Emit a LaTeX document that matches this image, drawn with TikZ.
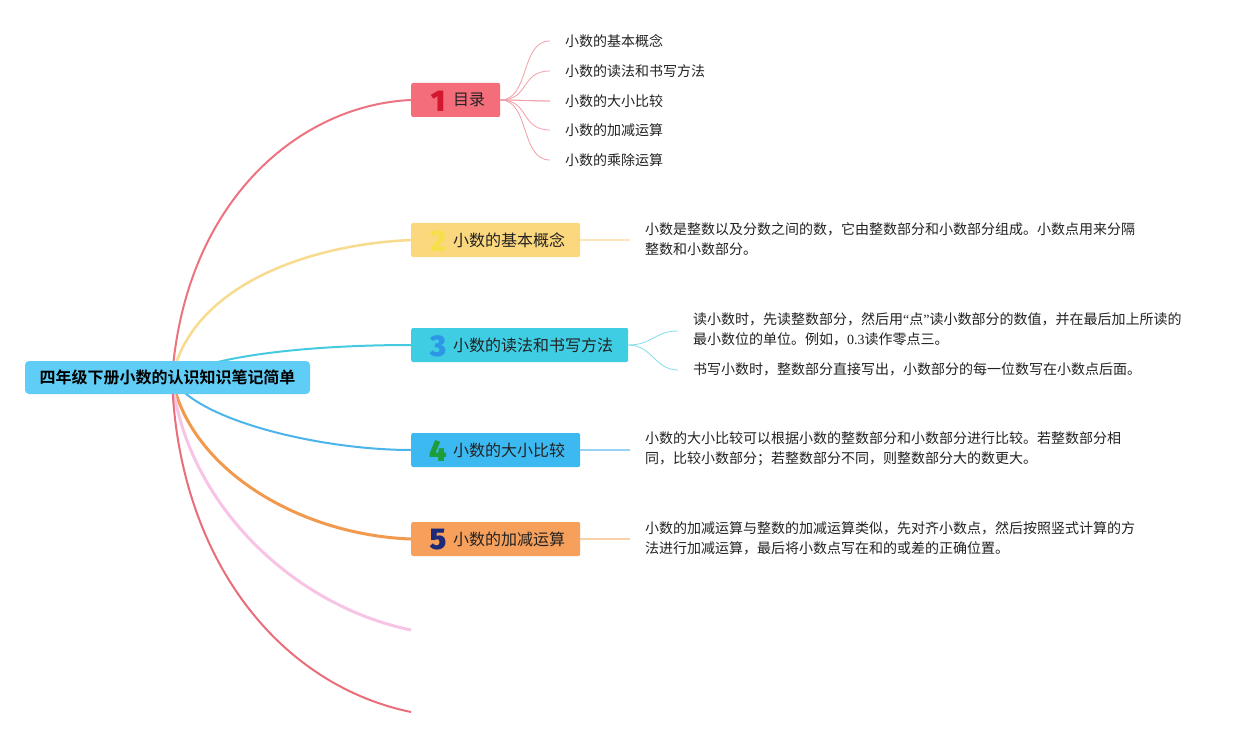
\documentclass[tikz,border=0pt]{standalone}
\usepackage{fontspec}
\setmainfont{Liberation Serif}
\newfontfamily\cjk{Noto Sans CJK SC}[BoldFont=Noto Sans CJK SC Bold]
\newfontfamily\numfont{Fira Sans}[BoldFont=Fira Sans Black]
\definecolor{rootc}{HTML}{60CDF6}
\definecolor{c1}{HTML}{F36D7B}\definecolor{n1}{HTML}{D3172E}
\definecolor{c2}{HTML}{FBD77E}\definecolor{n2}{HTML}{F6E04A}
\definecolor{c3}{HTML}{3FCDE3}\definecolor{n3}{HTML}{2E96E6}
\definecolor{c4}{HTML}{3DB9F2}\definecolor{n4}{HTML}{1E9E3A}
\definecolor{c5}{HTML}{F7A05C}\definecolor{n5}{HTML}{1D2A7A}
\definecolor{l1}{HTML}{EC7380}\definecolor{l2}{HTML}{F9DB8E}
\definecolor{l3}{HTML}{45CBE0}\definecolor{l4}{HTML}{4BB4EA}
\definecolor{l5}{HTML}{F19A4E}\definecolor{l6}{HTML}{F8C4E6}
\definecolor{l7}{HTML}{E96E7A}
\definecolor{s1}{HTML}{F2A0A8}\definecolor{s2}{HTML}{FBE6B8}
\definecolor{s3}{HTML}{84DCEA}\definecolor{s4}{HTML}{95D2F3}
\definecolor{s5}{HTML}{F8D0AA}
\definecolor{txt}{HTML}{222222}
\begin{document}
\begin{tikzpicture}[x=1pt,y=-1pt,
  box/.style={rectangle,rounded corners=2pt,minimum height=34pt,inner sep=0pt,anchor=west},
  numl/.style={font=\numfont\bfseries\fontsize{30}{30}\selectfont,inner sep=0pt},
  title/.style={font=\cjk\fontsize{16}{18}\selectfont,text=txt,anchor=west,inner sep=0pt},
  sub/.style={font=\cjk\fontsize{14}{16}\selectfont,text=txt,anchor=west,inner sep=0pt},
  desc/.style={font=\cjk\fontsize{14}{20}\selectfont,text=txt,anchor=north west,align=left,inner sep=0pt},
  branch/.style={line width=2pt},
  thin/.style={line width=0.8pt}]
\useasboundingbox (0,0) rectangle (1253,738);
\fill[white] (0,0) rectangle (1253,738);
\coordinate (o) at (172,378);
% end points of the two branches without box
\coordinate (e6) at (411,630);
\coordinate (e7) at (411,712);
% boxes
\node[box,fill=c1,minimum width=89pt] (b1) at (411,100) {};
\node[box,fill=c2,minimum width=169pt] (b2) at (411,240) {};
\node[box,fill=c3,minimum width=217pt] (b3) at (411,345) {};
\node[box,fill=c4,minimum width=169pt] (b4) at (411,450) {};
\node[box,fill=c5,minimum width=169pt] (b5) at (411,539) {};
% main curves
\draw[branch,l1] (o) .. controls (185,200) and (300,105) .. (b1.west);
\draw[branch,l2,line width=2.5pt] (o) .. controls (190,290) and (300,245) .. (b2.west);
\draw[branch,l3] (o) .. controls (220,352) and (330,345) .. (b3.west);
\draw[branch,l4] (o) .. controls (195,420) and (320,450) .. (b4.west);
\draw[branch,l5,line width=3pt] (o) .. controls (190,470) and (300,535) .. (b5.west);
\draw[branch,l6,line width=3pt] (o) .. controls (185,500) and (290,605) .. (e6);
\draw[branch,l7] (o) .. controls (178,560) and (280,685) .. (e7);
% root
\node[rectangle,rounded corners=4pt,fill=rootc,minimum width=285pt,minimum height=33pt,inner sep=0pt,
  font=\cjk\bfseries\fontsize{16}{18}\selectfont,text=black] (root) at (167.5,377.5) {四年级下册小数的认识知识笔记简单};
% box contents
\node[numl,text=n1] (n1) at ([xshift=27pt,yshift=-1pt]b1.west) {1};
\node[title] (t1) at ([xshift=42pt]b1.west) {目录};
\node[numl,text=n2] (n2) at ([xshift=27pt,yshift=-1pt]b2.west) {2};
\node[title] (t2) at ([xshift=42pt]b2.west) {小数的基本概念};
\node[numl,text=n3] (n3) at ([xshift=27pt,yshift=-1pt]b3.west) {3};
\node[title] (t3) at ([xshift=42pt]b3.west) {小数的读法和书写方法};
\node[numl,text=n4] (n4) at ([xshift=27pt,yshift=-1pt]b4.west) {4};
\node[title] (t4) at ([xshift=42pt]b4.west) {小数的大小比较};
\node[numl,text=n5] (n5) at ([xshift=27pt,yshift=-1pt]b5.west) {5};
\node[title] (t5) at ([xshift=42pt]b5.west) {小数的加减运算};
% sub topics of 1
\coordinate (p11) at (550,41);
\coordinate (p12) at (550,71);
\coordinate (p13) at (550,101);
\coordinate (p14) at (550,130);
\coordinate (p15) at (550,160);
\node[sub] (a1) at (565,41) {小数的基本概念};
\node[sub] (a2) at (565,71) {小数的读法和书写方法};
\node[sub] (a3) at (565,101) {小数的大小比较};
\node[sub] (a4) at (565,130) {小数的加减运算};
\node[sub] (a5) at (565,160) {小数的乘除运算};
\foreach \i in {1,...,5}
  \draw[thin,s1] (b1.east) .. controls (530,100) and (520,0 |- p1\i) .. (p1\i);
\draw[thin,s1] (b1.east) -- (p13);
% branch 2
\coordinate (q2) at (630,240);
\draw[line width=1.5pt,s2] (b2.east) -- (q2);
\node[desc] (d2) at (645,222) {小数是整数以及分数之间的数，它由整数部分和小数部分组成。小数点用来分隔\\整数和小数部分。};
% branch 3
\coordinate (q31) at (678,331);
\coordinate (q32) at (678,370);
\draw[thin,s3] (b3.east) .. controls (652,345) and (655,331) .. (q31);
\draw[thin,s3] (b3.east) .. controls (652,345) and (655,370) .. (q32);
\node[desc] (d31) at (693,312) {读小数时，先读整数部分，然后用{\rmfamily “}点{\rmfamily ”}读小数部分的数值，并在最后加上所读的\\最小数位的单位。例如，{\rmfamily 0.3}读作零点三。};
\node[desc] (d32) at (693,362) {书写小数时，整数部分直接写出，小数部分的每一位数写在小数点后面。};
% branch 4
\coordinate (q4) at (630,450);
\draw[line width=1.5pt,s4] (b4.east) -- (q4);
\node[desc] (d4) at (645,431) {小数的大小比较可以根据小数的整数部分和小数部分进行比较。若整数部分相\\同，比较小数部分；若整数部分不同，则整数部分大的数更大。};
% branch 5
\coordinate (q5) at (630,539);
\draw[line width=1.5pt,s5] (b5.east) -- (q5);
\node[desc] (d5) at (645,521) {小数的加减运算与整数的加减运算类似，先对齐小数点，然后按照竖式计算的方\\法进行加减运算，最后将小数点写在和的或差的正确位置。};
\end{tikzpicture}
\end{document}
